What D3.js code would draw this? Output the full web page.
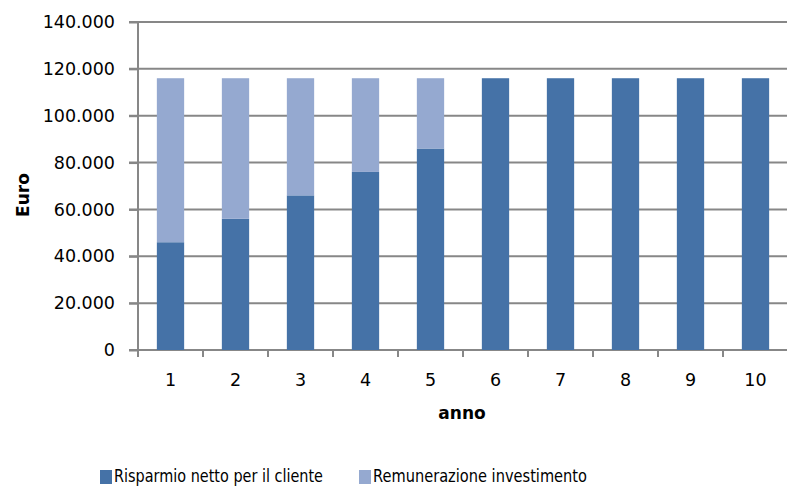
<!DOCTYPE html>
<html>
<head>
<meta charset="utf-8">
<script src="https://cdn.jsdelivr.net/npm/d3@7"></script>
<style>
  body { margin: 0; background: #fff; }
  svg text { font-family: "DejaVu Sans", sans-serif; fill: #000; }
</style>
</head>
<body>
<div id="chart"></div>
<script>
(function() {
  "use strict";

  var anni = ["1", "2", "3", "4", "5", "6", "7", "8", "9", "10"];
  var risparmio = [46000, 56000, 66000, 76000, 86000, 116000, 116000, 116000, 116000, 116000];
  var remunerazione = [70000, 60000, 50000, 40000, 30000, 0, 0, 0, 0, 0];
  var serieNomi = ["Risparmio netto per il cliente", "Remunerazione investimento"];
  var yTicks = [0, 20000, 40000, 60000, 80000, 100000, 120000, 140000];

  var width = 787, height = 488;
  var margin = { top: 22, right: 0, bottom: 138, left: 138 };
  var colori = ["#4572A7", "#95A9D0"];
  var grigio = "#878787";

  var svg = d3.select("#chart").append("svg")
    .attr("width", width)
    .attr("height", height);

  var x = d3.scaleBand()
    .domain(anni)
    .range([margin.left, width + 1])
    .paddingInner(0.58)
    .paddingOuter(0.29);

  var y = d3.scaleLinear()
    .domain([0, 140000])
    .range([height - margin.bottom, margin.top]);

  // gridlines
  svg.append("g")
    .selectAll("line")
    .data(yTicks)
    .enter().append("line")
    .attr("x1", margin.left - 9)
    .attr("x2", width)
    .attr("y1", function(d) { return y(d); })
    .attr("y2", function(d) { return y(d); })
    .attr("stroke", grigio)
    .attr("stroke-width", 2);

  // stacked bars
  var rows = anni.map(function(a, i) {
    return { anno: a, r: risparmio[i], m: remunerazione[i] };
  });
  var stack = d3.stack().keys(["r", "m"]);
  var series = stack(rows);

  svg.append("g")
    .selectAll("g")
    .data(series)
    .enter().append("g")
    .attr("fill", function(d, i) { return colori[i]; })
    .selectAll("rect")
    .data(function(d) { return d; })
    .enter().append("rect")
    .attr("x", function(d) { return x(d.data.anno); })
    .attr("width", x.bandwidth())
    .attr("y", function(d) { return y(d[1]); })
    .attr("height", function(d) { return y(d[0]) - y(d[1]); });

  // y axis
  var yAxis = svg.append("g")
    .attr("transform", "translate(" + margin.left + ",0)")
    .call(d3.axisLeft(y).tickValues(yTicks).tickSize(9).tickPadding(14)
      .tickFormat(function(d) { return d === 0 ? "0" : d3.format(",")(d).replace(/,/g, "."); }));
  yAxis.select(".domain").attr("stroke", grigio).attr("stroke-width", 2)
    .attr("d", "M0," + y(140000) + "V" + (y(0) + 7));
  yAxis.selectAll(".tick line").attr("stroke", grigio).attr("stroke-width", 2);
  yAxis.selectAll("text")
    .attr("font-size", 17.5)
    .attr("font-family", "DejaVu Sans")
    .attr("fill", "#000");

  // x axis
  var xAxis = svg.append("g")
    .attr("transform", "translate(0," + y(0) + ")")
    .call(d3.axisBottom(x).tickSize(0).tickPadding(24));
  xAxis.select(".domain").remove();
  xAxis.selectAll("text")
    .attr("font-size", 17.5)
    .attr("font-family", "DejaVu Sans")
    .attr("fill", "#000");
  xAxis.selectAll(".sep")
    .data(anni)
    .enter().append("line")
    .attr("class", "sep")
    .attr("x1", function(d) { return x(d) - x.step() * x.paddingInner() / 2; })
    .attr("x2", function(d) { return x(d) - x.step() * x.paddingInner() / 2; })
    .attr("y1", 0)
    .attr("y2", 7)
    .attr("stroke", grigio)
    .attr("stroke-width", 2);

  // axis titles
  svg.append("text")
    .attr("x", 462)
    .attr("y", 419)
    .attr("text-anchor", "middle")
    .attr("font-size", 17)
    .attr("font-weight", "bold")
    .text("anno");

  svg.append("text")
    .attr("transform", "translate(29,195) rotate(-90)")
    .attr("text-anchor", "middle")
    .attr("font-size", 17)
    .attr("font-weight", "bold")
    .text("Euro");

  // legend
  var legendX = [100, 359];
  var legendW = [209, 214];
  var legend = svg.append("g").selectAll("g")
    .data(serieNomi)
    .enter().append("g")
    .attr("transform", function(d, i) { return "translate(" + legendX[i] + ",469)"; });
  legend.append("rect")
    .attr("width", 12)
    .attr("height", 14)
    .attr("y", 1)
    .attr("fill", function(d, i) { return colori[i]; });
  legend.append("text")
    .attr("x", 14)
    .attr("y", 13)
    .attr("font-size", 18)
    .attr("font-family", "'Liberation Sans Narrow', 'DejaVu Sans Condensed', sans-serif")
    .attr("textLength", function(d, i) { return legendW[i]; })
    .attr("lengthAdjust", "spacingAndGlyphs")
    .attr("fill", "#222")
    .text(function(d) { return d; });
})();
</script>
</body>
</html>
